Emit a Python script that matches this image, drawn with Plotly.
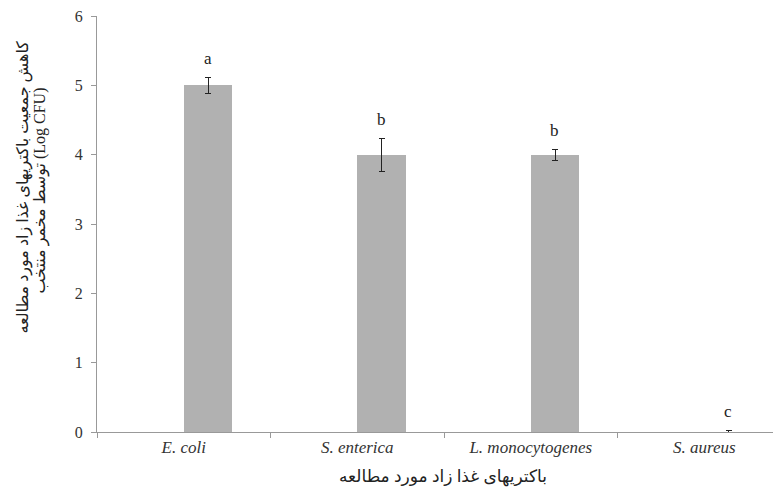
import plotly.graph_objects as go

categories = ["E. coli", "S. enterica", "L. monocytogenes", "S. aureus"]
means = [5.0, 4.0, 4.0, 0.0]
errors = [0.12, 0.24, 0.08, 0.02]
letters = ["a", "b", "b", "c"]
y_ticks = [0, 1, 2, 3, 4, 5, 6]

y_title_1 = "کاهش جمعیت باکتریهای غذا زاد مورد مطالعه"
y_title_2 = "توسط مخمر منتخب (Log CFU)"
x_title = "باکتریهای غذا زاد مورد مطالعه"

serif = "Liberation Serif, DejaVu Serif, serif"
persian = "Liberation Serif, DejaVu Sans, sans-serif"

fig = go.Figure()
fig.add_trace(go.Bar(
    x=categories, y=means,
    marker=dict(color="#b1b1b1", line=dict(width=0)),
    width=0.28, offset=0.0,
    error_y=dict(type="data", array=errors, visible=True,
                 color="#222222", thickness=1, width=3),
    showlegend=False,
))

for c, m, e, t in zip(categories, means, errors, letters):
    fig.add_annotation(x=c, y=m + e + 0.27, text=t, showarrow=False,
                       xshift=24, yanchor="middle",
                       font=dict(family=serif, size=17, color="#222222"))

fig.add_annotation(xref="paper", yref="paper", x=-0.108, y=0.59,
                   xanchor="center", yanchor="middle", textangle=-90,
                   text=y_title_1, showarrow=False,
                   font=dict(family=persian, size=16, color="#222222"))
fig.add_annotation(xref="paper", yref="paper", x=-0.083, y=0.58,
                   xanchor="center", yanchor="middle", textangle=-90,
                   text=y_title_2, showarrow=False,
                   font=dict(family=persian, size=16, color="#222222"))
fig.add_annotation(xref="paper", yref="paper", x=0.512, y=-0.108,
                   xanchor="center", yanchor="middle",
                   text=x_title, showarrow=False,
                   font=dict(family=persian, size=17, color="#222222"))

fig.update_layout(
    width=765, height=483,
    margin=dict(l=89, r=0, t=8, b=59),
    paper_bgcolor="white", plot_bgcolor="white",
    bargap=0,
    xaxis=dict(
        range=[-0.5, 3.396], type="category", automargin=False,
        tickson="boundaries", ticks="outside", ticklen=5, tickcolor="#999999",
        showline=True, linecolor="#999999", linewidth=1,
        showgrid=False, zeroline=False,
        tickfont=dict(family=serif, size=17, color="#333333", style="italic"),
    ),
    yaxis=dict(
        range=[0, 6], tickvals=y_ticks, automargin=False,
        ticks="outside", ticklen=5, tickcolor="#999999",
        showline=True, linecolor="#999999", linewidth=1,
        showgrid=False, zeroline=False, ticklabelstandoff=5,
        ticklabeloverflow="allow",
        tickfont=dict(family=serif, size=16, color="#333333"),
    ),
)

fig.write_html("out.html")
